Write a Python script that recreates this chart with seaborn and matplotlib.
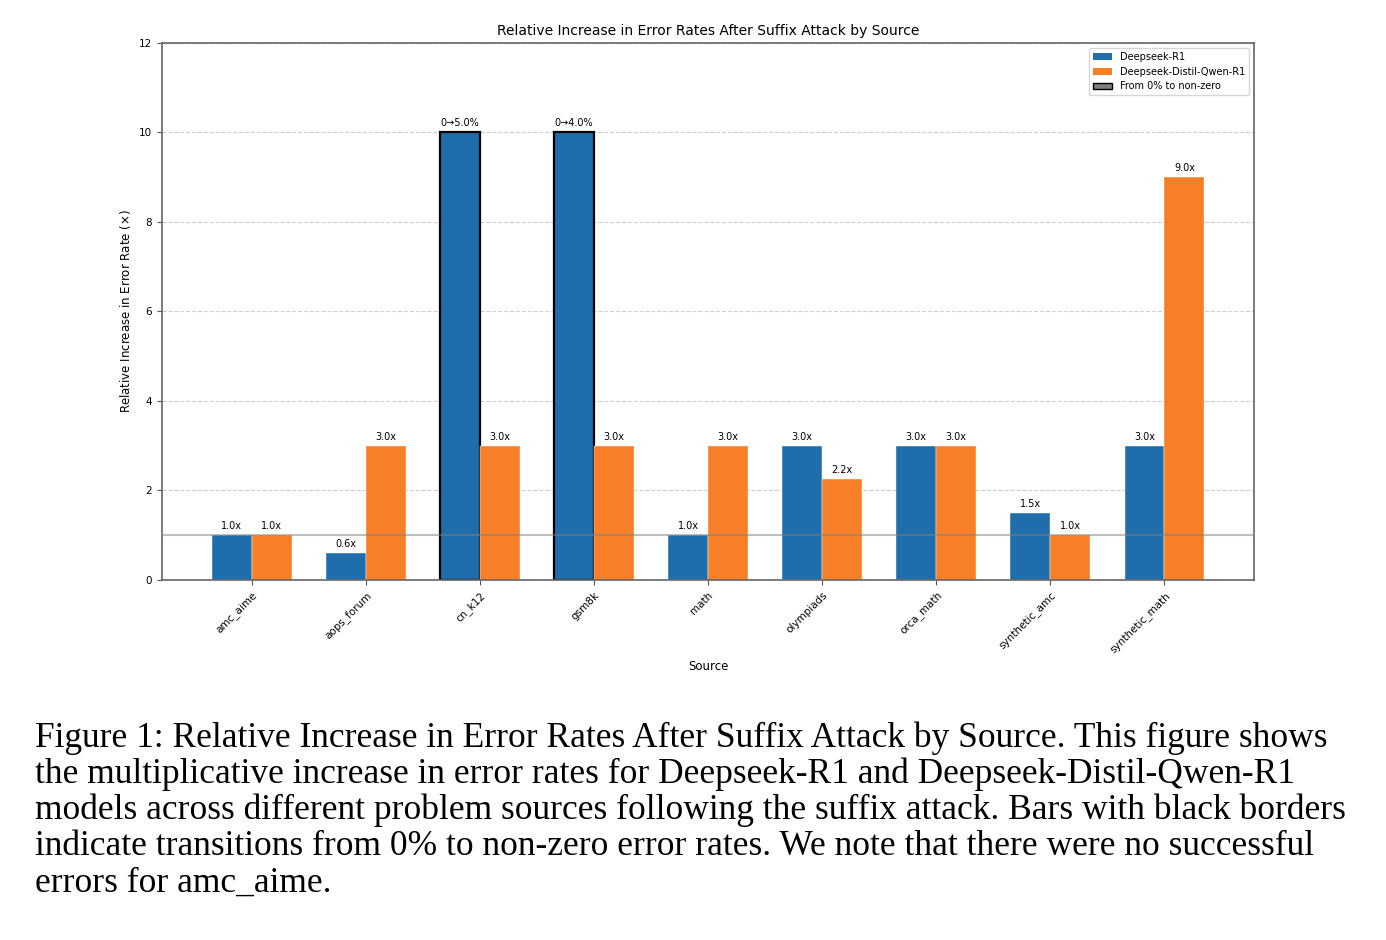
import seaborn as sns
import pandas as pd
from matplotlib import pyplot as plt
from matplotlib.patches import Patch

fuentes = ['amc_aime', 'aops_forum', 'cn_k12', 'gsm8k', 'math', 'olympiads',
           'orca_math', 'synthetic_amc', 'synthetic_math']
modelos = ['Deepseek-R1', 'Deepseek-Distil-Qwen-R1']
# barras de 0% a no-cero se recortan a 10
r1 = [1.0, 0.6, 10.0, 10.0, 1.0, 3.0, 3.0, 1.5, 3.0]
qwen = [1.0, 3.0, 3.0, 3.0, 3.0, 2.25, 3.0, 1.0, 9.0]
r1_etiquetas = ['1.0x', '0.6x', '0→5.0%', '0→4.0%', '1.0x', '3.0x', '3.0x', '1.5x', '3.0x']
qwen_etiquetas = ['1.0x', '3.0x', '3.0x', '3.0x', '3.0x', '2.2x', '3.0x', '1.0x', '9.0x']
desde_cero = [False, False, True, True, False, False, False, False, False]

colores = ['#1f6eab', '#f77f27']

dados = pd.DataFrame({
    'Source': fuentes * 2,
    'Model': [modelos[0]] * len(fuentes) + [modelos[1]] * len(fuentes),
    'Value': r1 + qwen,
})

fig = plt.figure(figsize=(13.86, 9.4), dpi=100)
ax = fig.add_axes([0.1169, 0.383, 0.7879, 0.5713])

sns.barplot(data=dados, x='Source', y='Value', hue='Model', palette=colores,
            width=0.7, saturation=1, ax=ax, legend=False, errorbar=None,
            edgecolor='white', linewidth=0.3)

# bordas pretas para as transicoes de 0%
for barra, flag in zip(ax.containers[0], desde_cero):
    if flag:
        barra.set_edgecolor('black')
        barra.set_linewidth(1.6)

ax.bar_label(ax.containers[0], labels=r1_etiquetas, padding=3, fontsize=7)
ax.bar_label(ax.containers[1], labels=qwen_etiquetas, padding=3, fontsize=7)

ax.axhline(1, color='gray', alpha=0.5, linewidth=1.5, zorder=5)
ax.set_ylim(0, 12)
ax.set_xlim(-0.785, len(fuentes) - 1 + 0.785)
ax.grid(axis='y', linestyle='--', alpha=0.6)
ax.set_axisbelow(True)

ax.set_title('Relative Increase in Error Rates After Suffix Attack by Source', fontsize=10)
ax.set_xlabel('Source', fontsize=8.5, labelpad=4)
ax.set_ylabel(r'Relative Increase in Error Rate ($\times$)', fontsize=8.5)
ax.tick_params(axis='both', labelsize=7.5, color='#555555')
plt.setp(ax.get_xticklabels(), rotation=45, ha='right', rotation_mode='anchor')
for s in ax.spines.values():
    s.set_color('#666666')
    s.set_linewidth(1.2)

handles = [Patch(facecolor=colores[0], label=modelos[0]),
           Patch(facecolor=colores[1], label=modelos[1]),
           Patch(facecolor='gray', edgecolor='black', label='From 0% to non-zero')]
ax.legend(handles=handles, loc='upper right', fontsize=7)

caption = [
    'Figure 1: Relative Increase in Error Rates After Suffix Attack by Source. This figure shows',
    'the multiplicative increase in error rates for Deepseek-R1 and Deepseek-Distil-Qwen-R1',
    'models across different problem sources following the suffix attack. Bars with black borders',
    'indicate transitions from 0% to non-zero error rates. We note that there were no successful',
    'errors for amc_aime.',
]
for i, linha in enumerate(caption):
    fig.text(35 / 1386, 1 - (738 + i * 36.3) / 940, linha, fontsize=25.5,
             family='Liberation Serif', va='center', ha='left')

fig.savefig('out.png', dpi=100)
